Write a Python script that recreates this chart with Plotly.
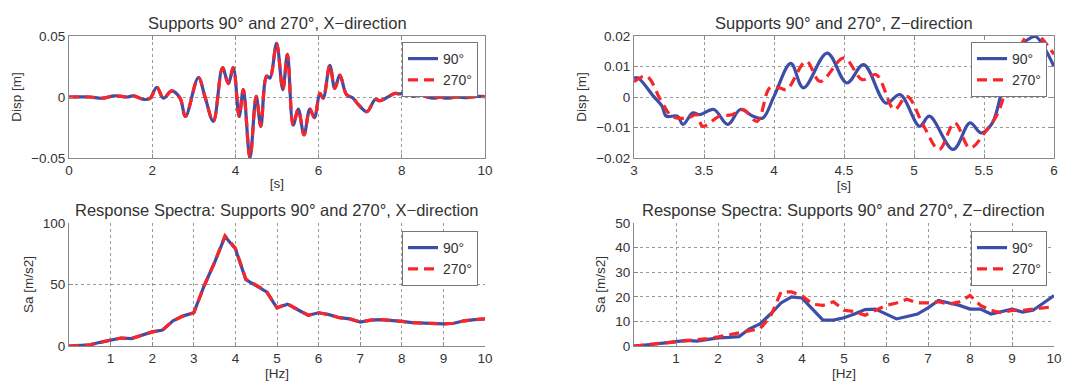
import plotly.graph_objects as go

# ---------------- data ----------------
# Top-left: displacement, X-direction, t in [s]
tx = [0, 0.5, 0.8, 1.1, 1.4, 1.55, 1.8, 1.95, 2.11, 2.27, 2.47, 2.67, 2.80, 3.11, 3.27, 3.47,
      3.69, 3.83, 3.95, 4.09, 4.19, 4.35, 4.50, 4.61, 4.75, 4.83, 4.99, 5.14, 5.25, 5.39,
      5.51, 5.65, 5.79, 5.90, 6.03, 6.11, 6.27, 6.39, 6.51, 6.67, 6.83, 6.95, 7.16, 7.36,
      7.48, 7.72, 7.84, 7.96, 8.08, 8.28, 8.44, 8.60, 8.76, 8.92, 9.08, 9.32, 9.56, 9.80, 10.0]
dx_90 = [0, 0, -0.001, 0.001, 0, 0.001, -0.002, -0.001, 0.008, -0.001, 0.005, -0.001, -0.016,
         0.016, 0.0, -0.020, 0.024, 0.011, 0.024, -0.016, 0.006, -0.050, 0.0005, -0.024, 0.017,
         0.0155, 0.044, 0.006, 0.035, -0.023, -0.010, -0.031, -0.010, -0.017, 0.003, -0.001,
         0.026, 0.007, 0.018, 0.002, -0.001, -0.006, -0.012, -0.002, -0.003, 0.001, 0.003,
         0.0025, 0.004, 0.0005, 0.002, 0.0, -0.001, 0.0, -0.001, 0.0, -0.0005, 0.0005, 0.0003]
dx_270 = [0, 0, -0.001, 0.001, 0, 0.001, -0.002, -0.001, 0.008, -0.001, 0.005, -0.001, -0.016,
          0.016, 0.0, -0.020, 0.024, 0.011, 0.024, -0.016, 0.006, -0.050, 0.0005, -0.024, 0.017,
          0.0155, 0.044, 0.006, 0.035, -0.023, -0.010, -0.031, -0.010, -0.017, 0.003, -0.001,
          0.026, 0.007, 0.018, 0.002, -0.001, -0.006, -0.012, -0.002, -0.003, 0.001, 0.003,
          0.0025, 0.004, 0.0005, 0.002, 0.0, -0.001, 0.0, -0.001, 0.0, -0.0005, 0.0005, 0.0003]

# Top-right: displacement, Z-direction
tz_90 = [3.0, 3.03, 3.14, 3.20, 3.23, 3.31, 3.35, 3.42, 3.47, 3.57, 3.67, 3.76, 3.85, 3.92,
         4.0, 4.12, 4.21, 4.38, 4.52, 4.64, 4.80, 4.90, 5.04, 5.11, 5.28, 5.40, 5.48, 5.56,
         5.64, 5.71, 5.83, 5.87, 6.0]
dz_90 = [0.0062, 0.0062, 0.0002, -0.003, -0.0063, -0.0063, -0.009, -0.0052, -0.0058, -0.0041,
         -0.009, -0.0041, -0.0063, -0.0069, 0.0002, 0.011, 0.003, 0.0144, 0.0046, 0.0106,
         -0.002, 0.0008, -0.0096, -0.0063, -0.0172, -0.0085, -0.0118, -0.0085, 0.0046,
         0.0144, 0.0193, 0.0198, 0.010]
tz_270 = [3.0, 3.09, 3.19, 3.27, 3.38, 3.45, 3.49, 3.61, 3.70, 3.78, 3.88, 3.97, 4.04, 4.09,
          4.23, 4.33, 4.50, 4.63, 4.73, 4.86, 4.95, 5.07, 5.18, 5.29, 5.40, 5.52, 5.60, 5.71,
          5.80, 5.85, 6.0]
dz_270 = [0.005, 0.0068, -0.0009, -0.0063, -0.0069, -0.0058, -0.0096, -0.0063, -0.0058,
          -0.0041, -0.008, 0.003, 0.003, 0.0024, 0.0117, 0.0051, 0.0128, 0.0057, 0.0073,
          -0.0041, 0.0002, -0.0096, -0.0172, -0.0085, -0.0167, -0.0107, -0.0052, 0.011,
          0.0198, 0.0215, 0.014]

# Response spectra frequencies [Hz]
freq = [0, 0.25, 0.5, 0.75, 1.0, 1.25, 1.5, 1.75, 2.0, 2.25, 2.5, 2.75, 3.0, 3.25, 3.5, 3.75,
        4.0, 4.25, 4.5, 4.75, 5.0, 5.25, 5.5, 5.75, 6.0, 6.25, 6.5, 6.75, 7.0, 7.25, 7.5, 7.75,
        8.0, 8.25, 8.5, 8.75, 9.0, 9.25, 9.5, 9.75, 10.0]
sax_90 = [0, 0.3, 1, 3, 4.5, 6.5, 6, 8.5, 11.5, 13, 20.5, 24.5, 27, 49, 68, 89, 79, 54, 49, 44,
          31, 34, 29.5, 25, 27, 25.5, 23, 22, 19.5, 21, 21.5, 21, 20, 19, 18.5, 18.5, 18, 18.5,
          20.5, 21.5, 22]
sax_270 = [0, 0.3, 1, 3, 4.5, 6.5, 6, 8.5, 11.5, 13, 20.5, 24.5, 27, 49, 68, 89.5, 79.5, 54.5,
           49.5, 44.5, 31, 34.5, 29.5, 25, 27, 25.5, 23, 22, 19.5, 21, 21.5, 21, 20, 19, 18.5,
           18.5, 18, 18.5, 20.5, 21.5, 22]
saz_90 = [0, 0.3, 0.8, 1.3, 1.7, 2.3, 2.0, 2.8, 3.3, 3.5, 3.8, 7, 9, 13, 17.5, 20, 19.5, 15,
          10.5, 10.5, 11.5, 13, 14.8, 15, 13, 11, 12, 13, 15.5, 18.5, 17.5, 16.5, 15, 15, 13,
          14, 15, 13.8, 14.5, 17.5, 20.5]
saz_270 = [0, 0.4, 0.9, 1.4, 1.9, 2.3, 2.4, 3, 3.7, 4.5, 5.5, 6, 7, 12, 22, 22, 20.5, 17, 16.5,
           18, 14.5, 14, 12.5, 14.5, 16.5, 17.5, 19, 17.5, 17.5, 18, 17, 18, 20.5, 16.5, 14.5,
           13.5, 14.5, 14.5, 15, 15.5, 16]

series_names = ["90°", "270°"]
titles = ["Supports 90° and 270°, X\u2212direction",
          "Supports 90° and 270°, Z\u2212direction",
          "Response Spectra: Supports 90° and 270°, X\u2212direction",
          "Response Spectra: Supports 90° and 270°, Z\u2212direction"]

# ---------------- style ----------------
W, H = 1073, 385
OFF = 8                      # page body margin in the browser
FW, FH = W - OFF, H - OFF    # figure size so it fits the window
BLUE = "#3c4ea8"
RED = "#f7262a"
TXT = "#333333"
FONT = "Liberation Sans, Arial, sans-serif"
TICK_SIZE = 13.5
TITLE_SIZE = 16.5

def px_x(p):
    return (p - OFF) / FW

def px_y(p):
    return 1 - (p - OFF) / FH

doms = [
    ((69, 485), (36, 158)),
    ((634, 1054), (36, 158)),
    ((69, 485), (223, 346)),
    ((634, 1054), (223, 346)),
]

fig = go.Figure()

data_sets = [
    (tx, dx_90, tx, dx_270, "spline"),
    (tz_90, dz_90, tz_270, dz_270, "spline"),
    (freq, sax_90, freq, sax_270, "linear"),
    (freq, saz_90, freq, saz_270, "linear"),
]

for i, (xa, ya, xb, yb, shape) in enumerate(data_sets):
    sfx = "" if i == 0 else str(i + 1)
    leg = "legend" if i == 0 else f"legend{i + 1}"
    fig.add_trace(go.Scatter(x=xa, y=ya, mode="lines", name=series_names[0],
                             line=dict(color=BLUE, width=3.2, shape=shape),
                             xaxis="x" + sfx, yaxis="y" + sfx, legend=leg))
    fig.add_trace(go.Scatter(x=xb, y=yb, mode="lines", name=series_names[1],
                             line=dict(color=RED, width=3.2, shape=shape, dash="10px,6px"),
                             xaxis="x" + sfx, yaxis="y" + sfx, legend=leg))

axis_common = dict(showgrid=True, gridcolor="#9a9a9a", griddash="dot", gridwidth=1,
                   zeroline=False, showline=True, linecolor="#8a8a8a", linewidth=1,
                   ticks="inside", ticklen=4, tickcolor="#8a8a8a", automargin=False,
                   tickfont=dict(family=FONT, size=TICK_SIZE, color=TXT))

xcfg = [
    dict(range=[0, 10], tickvals=[0, 2, 4, 6, 8, 10], title="[s]", mirror="ticks"),
    dict(range=[3, 6], tickvals=[3, 3.5, 4, 4.5, 5, 5.5, 6], title="[s]", mirror="ticks"),
    dict(range=[0, 10], tickvals=[1, 2, 3, 4, 5, 6, 7, 8, 9, 10], title="[Hz]", mirror=False),
    dict(range=[0, 10], tickvals=[1, 2, 3, 4, 5, 6, 7, 8, 9, 10], title="[Hz]", mirror=False),
]
ycfg = [
    dict(range=[-0.05, 0.05], tickvals=[-0.05, 0, 0.05], ticktext=["\u22120.05", "0", "0.05"],
         title="Disp [m]", mirror="ticks"),
    dict(range=[-0.02, 0.02], tickvals=[-0.02, -0.01, 0, 0.01, 0.02],
         ticktext=["\u22120.02", "\u22120.01", "0", "0.01", "0.02"], title="Disp [m]", mirror="ticks"),
    dict(range=[0, 100], tickvals=[0, 50, 100], title="Sa [m/s2]", mirror=False),
    dict(range=[0, 50], tickvals=[0, 10, 20, 30, 40, 50], title="Sa [m/s2]", mirror=False),
]

layout = dict(width=FW, height=FH, margin=dict(l=0, r=0, t=0, b=0, autoexpand=False),
              paper_bgcolor="white", plot_bgcolor="white",
              font=dict(family=FONT, color=TXT), annotations=[])

for i in range(4):
    (x0, x1), (y0, y1) = doms[i]
    sfx = "" if i == 0 else str(i + 1)
    xc = dict(axis_common)
    xc.update(xcfg[i])
    xc["title"] = dict(text=xc["title"], font=dict(family=FONT, size=TICK_SIZE, color=TXT), standoff=1)
    xc["domain"] = [px_x(x0), px_x(x1)]
    xc["anchor"] = "y" + sfx
    yc = dict(axis_common)
    yc.update(ycfg[i])
    yc["title"] = dict(text=yc["title"], font=dict(family=FONT, size=TICK_SIZE, color=TXT), standoff=6)
    yc["domain"] = [px_y(y1), px_y(y0)]
    yc["anchor"] = "x" + sfx
    layout["xaxis" + sfx] = xc
    layout["yaxis" + sfx] = yc
    layout["annotations"].append(dict(
        text=titles[i], x=(px_x(x0) + px_x(x1)) / 2, y=px_y(y0) + 2 / FH,
        xref="paper", yref="paper", xanchor="center", yanchor="bottom", showarrow=False,
        font=dict(family=FONT, size=TITLE_SIZE, color=TXT)))
    leg = dict(x=px_x(x1 - 7), y=px_y(y0 + 6 if i < 2 else y0 + 8), xanchor="right", yanchor="top",
               bgcolor="white", bordercolor="#777777", borderwidth=1,
               font=dict(family=FONT, size=14, color=TXT), tracegroupgap=0,
               itemwidth=30)
    layout["legend" if i == 0 else f"legend{i + 1}"] = leg

fig.update_layout(**layout)
fig.write_html("out.html")
